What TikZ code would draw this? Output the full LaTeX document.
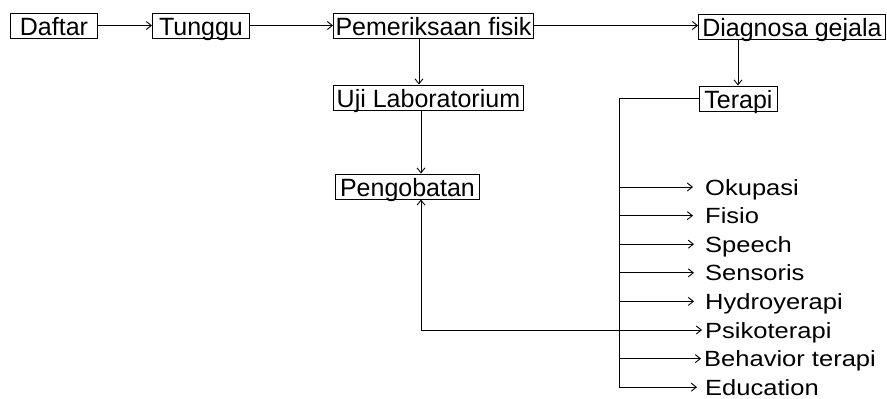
\documentclass[tikz,border=0pt]{standalone}
\usepackage{fontspec}
\setmainfont{Liberation Sans}
\usetikzlibrary{arrows.meta,calc}
\newcommand{\wide}[1]{\scalebox{1.16}[1]{#1}}
\begin{document}
\begin{tikzpicture}[x=1pt,y=-1pt,
  every node/.style={font=\fontsize{25}{30}\selectfont},
  box/.style={draw,line width=0.9pt,anchor=west,minimum height=25pt,inner ysep=0.5pt,
    text height=22pt,text depth=2pt,inner xsep=0pt,align=center},
  item/.style={anchor=base west,inner sep=0pt,font=\fontsize{22}{26}\selectfont},
  conn/.style={line width=0.9pt},
  arr/.style={conn,-{Straight Barb[length=5pt,width=8pt]}}]
\useasboundingbox (0,0) rectangle (887,399);
% boxes
\node[box,minimum width=87pt] (daftar) at (10,25.5) {Daftar};
\node[box,minimum width=97pt] (tunggu) at (152,25.5) {Tunggu};
\node[box,minimum width=200pt] (periksa) at (333,25.5) {Pemeriksaan fisik};
\node[box,minimum width=187pt] (diag) at (698,26.5) {Diagnosa gejala};
\node[box,minimum width=190pt] (uji) at (333,97.5) {Uji Laboratorium};
\node[box,minimum width=78pt] (terapi) at (699,98.5) {Terapi};
\node[box,minimum width=144pt] (obat) at (335,186.5) {Pengobatan};
% list items
\node[item] (okupasi) at (705,195) {\wide{Okupasi}};
\node[item] (fisio) at (705,223.6) {\wide{Fisio}};
\node[item] (speech) at (705,252.2) {\wide{Speech}};
\node[item] (sensoris) at (705,280.8) {\wide{Sensoris}};
\node[item] (hydro) at (705,309.4) {\wide{Hydroyerapi}};
\node[item] (psiko) at (705,338) {\wide{Psikoterapi}};
\node[item] (behav) at (704,366.6) {\wide{Behavior terapi}};
\node[item] (edu) at (705,395.2) {\wide{Education}};
% coordinates
\coordinate (tk) at (619,98.5);
\coordinate (r1) at (619,187);
\coordinate (r2) at (619,215.6);
\coordinate (r3) at (619,244.2);
\coordinate (r4) at (619,272.8);
\coordinate (r5) at (619,301.4);
\coordinate (r6) at (619,330);
\coordinate (r7) at (619,358.6);
\coordinate (r8) at (619,387.2);
\coordinate (pb) at (421,330);
% top row
\draw[arr] (daftar.east) -- (tunggu.west);
\draw[arr] (tunggu.east) -- (periksa.west);
\draw[arr] (periksa.east) -- (diag.west |- periksa.east);
\draw[arr] ($(periksa.south west)+(86,0)$) -- ($(uji.north west)+(86,0)$);
\draw[arr] ($(uji.south west)+(88,0)$) -- ($(obat.north west)+(86,0)$);
\draw[arr] ($(diag.south west)+(40,0)$) -- ($(terapi.north west)+(39,0)$);
% trunk
\draw[conn] (terapi.west) -- (tk) -- (r8);
\draw[arr] (r1) -- ($(r1)+(74,0)$);
\draw[arr] (r2) -- ($(r2)+(74,0)$);
\draw[arr] (r3) -- ($(r3)+(75,0)$);
\draw[arr] (r4) -- ($(r4)+(75,0)$);
\draw[arr] (r5) -- ($(r5)+(75,0)$);
\draw[arr] (pb) -- ($(r6)+(83,0)$);
\draw[arr] (r7) -- ($(r7)+(82,0)$);
\draw[arr] (r8) -- ($(r8)+(78,0)$);
\draw[arr] (pb) -- (pb |- obat.south);
\end{tikzpicture}
\end{document}
